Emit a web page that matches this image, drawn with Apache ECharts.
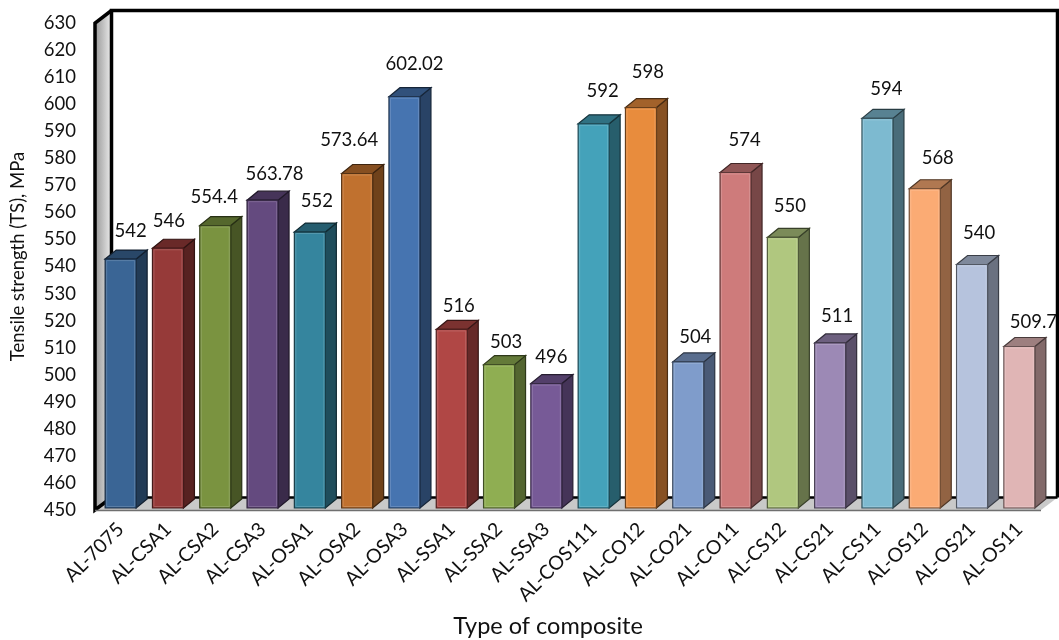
<!DOCTYPE html>
<html>
<head>
<meta charset="utf-8">
<style>html,body{margin:0;background:#fff}#chart{width:1059px;height:640px}</style>
<script src="https://cdn.jsdelivr.net/npm/echarts@6/dist/echarts.min.js"></script>
</head>
<body>
<div id="chart"></div>
<script>
const categories = ['AL-7075','AL-CSA1','AL-CSA2','AL-CSA3','AL-OSA1','AL-OSA2','AL-OSA3','AL-SSA1','AL-SSA2','AL-SSA3','AL-COS111','AL-CO12','AL-CO21','AL-CO11','AL-CS12','AL-CS21','AL-CS11','AL-OS12','AL-OS21','AL-OS11'];
const strengths = [542,546,554.4,563.78,552,573.64,602.02,516,503,496,592,598,504,574,550,511,594,568,540,509.7];
const valueLabels = ['542','546','554.4','563.78','552','573.64','602.02','516','503','496','592','598','504','574','550','511','594','568','540','509.7'];
const faceColors = ['#3A6595','#963A39','#7A9340','#644A7F','#35859E','#C0712F','#4674B0','#B04745','#8FAE52','#775A97','#44A2BA','#E88C3D','#7F9CCB','#CE7B7B','#B0C77F','#9C89B5','#7DBAD0','#FBAB74','#B6C3DD','#E0B5B5'];
// Per-bar nudges of the value labels, [dx, dy] from the default spot above the bar
const labelNudges = [[4,-10],[-5,-9],[-7,-10],[6,-8],[1,-13],[-14,-15],[4,-14],[1,-5],[1,-4],[-1,-8],[3,-14],[1,-17],[1,-6],[3,-14],[1,-13],[1,-8],[3,-11],[7,-12],[1,-13],[8,-6]];

const DEPTH_X = 11, DEPTH_Y = 9;       // bar extrusion
const WALL_X = 16.5, WALL_Y = 12.5;    // chart box extrusion
const BAR_WIDTH = 31;

function shade(hex, k) {
  const n = parseInt(hex.slice(1), 16);
  const c = [n >> 16, (n >> 8) & 255, n & 255].map(v => Math.round(v * k));
  return 'rgb(' + c.join(',') + ')';
}
function lift(hex, k) {
  const n = parseInt(hex.slice(1), 16);
  const c = [n >> 16, (n >> 8) & 255, n & 255].map(v => Math.round(v + (255 - v) * k));
  return 'rgb(' + c.join(',') + ')';
}

// Box walls and floor, anchored on the plot rectangle
function renderFrame(params, api) {
  const cs = params.coordSys;
  const L = cs.x - 2, R = cs.x + cs.width - 2, T = cs.y, B = cs.y + cs.height;
  const dx = WALL_X, dy = WALL_Y;
  const black = '#000';
  const kids = [
    { type: 'polygon', shape: { points: [[L, T], [L + dx, T - dy], [L + dx, B - dy], [L, B]] },
      style: { fill: { type: 'linear', x: 0, y: 0, x2: 1, y2: 0, colorStops: [{ offset: 0, color: '#9a9a9a' }, { offset: 0.45, color: '#bdbdbd' }, { offset: 1, color: '#ececec' }] } } },
    { type: 'polygon', shape: { points: [[L, B], [L + dx, B - dy], [R + dx, B - dy], [R, B]] },
      style: { fill: '#c9c9c9' } },
    { type: 'polyline', shape: { points: [[L + dx, B - dy], [L + dx, T - dy], [R + dx, T - dy], [R + dx, B - dy]] },
      style: { fill: 'none', stroke: black, lineWidth: 3.5 } },
    { type: 'line', shape: { x1: L + dx, y1: B - dy, x2: R + dx, y2: B - dy }, style: { stroke: black, lineWidth: 2.5 } },
    { type: 'polyline', shape: { points: [[L + dx, T - dy], [L, T], [L, B], [L + dx, B - dy]] },
      style: { fill: 'none', stroke: black, lineWidth: 3.5 } },
    { type: 'line', shape: { x1: L, y1: B + 0.5, x2: R, y2: B + 0.5 }, style: { stroke: '#6f6f6f', lineWidth: 1.5 } }
  ];
  return { type: 'group', children: kids };
}

// One extruded bar: side, top, front face and the value text
function renderBar(params, api) {
  const i = api.value(0);
  const p = api.coord([i, api.value(1)]);
  const base = api.coord([i, 450]);
  const x = p[0] - BAR_WIDTH / 2, w = BAR_WIDTH;
  const top = p[1] - 2, bottom = base[1] - 2;
  const col = faceColors[i];
  const nudge = labelNudges[i];
  const d = DEPTH_X, e = DEPTH_Y;
  return {
    type: 'group',
    children: [
      { type: 'polygon', shape: { points: [[x + w, top], [x + w + d, top - e], [x + w + d, bottom - e], [x + w, bottom]] },
        style: { fill: shade(col, 0.58), stroke: shade(col, 0.32), lineWidth: 1.2 } },
      { type: 'polygon', shape: { points: [[x, top], [x + d, top - e], [x + w + d, top - e], [x + w, top]] },
        style: { fill: shade(col, 0.7), stroke: shade(col, 0.32), lineWidth: 1.2 } },
      { type: 'rect', shape: { x: x, y: top, width: w, height: bottom - top },
        style: { fill: col, stroke: shade(col, 0.45), lineWidth: 1.2 } },
      { type: 'rect', shape: { x: x + 1.5, y: top + 1.5, width: w - 3, height: bottom - top - 3 },
        style: { fill: 'none', stroke: lift(col, 0.16), lineWidth: 1 } },
      { type: 'text', x: p[0] + 6 + nudge[0], y: top - e + nudge[1],
        style: { text: valueLabels[i], font: '18.5px Lato', fill: '#111', textAlign: 'center', textVerticalAlign: 'bottom' } }
    ]
  };
}

const chart = echarts.init(document.getElementById('chart'));
chart.setOption({
  animation: false,
  backgroundColor: '#fff',
  grid: { left: 97, top: 23, width: 946, height: 487, outerBoundsMode: 'none' },
  xAxis: {
    type: 'category', data: categories,
    name: 'Type of composite', nameLocation: 'middle', nameGap: 104,
    nameTextStyle: { fontFamily: 'Lato', fontSize: 23.5, color: '#111', padding: [0, 44, 0, 0] },
    axisLine: { show: false }, axisTick: { show: false },
    axisLabel: { rotate: 45, interval: 0, margin: 16, fontFamily: 'Lato', fontSize: 19.5, color: '#111' }
  },
  yAxis: {
    type: 'value', min: 450, max: 630, interval: 10,
    name: 'Tensile strength (TS), MPa', nameLocation: 'middle', nameGap: 69,
    nameTextStyle: { fontFamily: 'Lato', fontSize: 18.5, color: '#111', padding: [0, 0, 0, 20] },
    axisLine: { show: false }, axisTick: { show: false }, splitLine: { show: false },
    axisLabel: { margin: 21, fontFamily: 'Lato', fontSize: 18.5, color: '#111', padding: [3, 0, 0, 0] }
  },
  series: [
    { type: 'custom', silent: true, z: 1, renderItem: renderFrame, data: [[0, 450]], clip: false },
    { type: 'custom', z: 2, renderItem: renderBar, clip: false,
      encode: { x: 0, y: 1 },
      data: strengths.map((v, i) => [i, v]) }
  ]
});
</script>
</body>
</html>
